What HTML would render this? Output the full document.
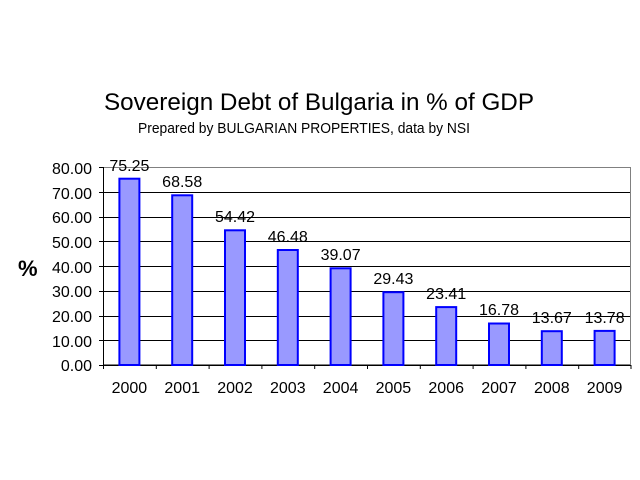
<!DOCTYPE html>
<html><head><meta charset="utf-8"><style>html,body{margin:0;padding:0;background:#fff}svg{display:block}</style></head>
<body>
<svg width="640" height="480" xmlns="http://www.w3.org/2000/svg" font-family="Liberation Sans, Arial, sans-serif">
<rect width="640" height="480" fill="#fff"/>
<text x="104" y="110" font-size="24" textLength="430" lengthAdjust="spacingAndGlyphs">Sovereign Debt of Bulgaria in % of GDP</text>
<text x="138" y="133" font-size="15" textLength="332" lengthAdjust="spacingAndGlyphs">Prepared by BULGARIAN PROPERTIES, data by NSI</text>
<text x="18" y="276" font-size="22" font-weight="bold">%</text>
<g stroke="#000" stroke-width="1">
<line x1="103" y1="192.5" x2="631" y2="192.5"/>
<line x1="103" y1="217.5" x2="631" y2="217.5"/>
<line x1="103" y1="241.5" x2="631" y2="241.5"/>
<line x1="103" y1="266.5" x2="631" y2="266.5"/>
<line x1="103" y1="291.5" x2="631" y2="291.5"/>
<line x1="103" y1="316.5" x2="631" y2="316.5"/>
<line x1="103" y1="340.5" x2="631" y2="340.5"/>
</g>
<rect x="103.5" y="167.5" width="527" height="197" fill="none" stroke="#808080"/>
<g stroke="#000">
<line x1="103.5" y1="167" x2="103.5" y2="369"/>
<line x1="99" y1="365.5" x2="631" y2="365.5"/>
<line x1="99" y1="167.5" x2="103" y2="167.5"/><line x1="99" y1="192.5" x2="103" y2="192.5"/><line x1="99" y1="217.5" x2="103" y2="217.5"/><line x1="99" y1="241.5" x2="103" y2="241.5"/><line x1="99" y1="266.5" x2="103" y2="266.5"/><line x1="99" y1="291.5" x2="103" y2="291.5"/><line x1="99" y1="316.5" x2="103" y2="316.5"/><line x1="99" y1="340.5" x2="103" y2="340.5"/>
<line x1="156.3" y1="365" x2="156.3" y2="369"/><line x1="209.1" y1="365" x2="209.1" y2="369"/><line x1="261.9" y1="365" x2="261.9" y2="369"/><line x1="314.7" y1="365" x2="314.7" y2="369"/><line x1="367.5" y1="365" x2="367.5" y2="369"/><line x1="420.3" y1="365" x2="420.3" y2="369"/><line x1="473.1" y1="365" x2="473.1" y2="369"/><line x1="525.9" y1="365" x2="525.9" y2="369"/><line x1="578.7" y1="365" x2="578.7" y2="369"/><line x1="631" y1="365" x2="631" y2="369"/>
</g>
<g font-size="16" text-anchor="end">
<text x="92" y="174">80.00</text><text x="92" y="199">70.00</text><text x="92" y="223">60.00</text><text x="92" y="248">50.00</text><text x="92" y="273">40.00</text><text x="92" y="297">30.00</text><text x="92" y="322">20.00</text><text x="92" y="347">10.00</text><text x="92" y="371">0.00</text>
</g>
<g fill="#9999ff" stroke="#0000ff" stroke-width="2">
<rect x="119.4" y="178.7" width="20" height="186.3"/>
<rect x="172.2" y="195.3" width="20" height="169.7"/>
<rect x="225.0" y="230.3" width="20" height="134.7"/>
<rect x="277.8" y="250.0" width="20" height="115.0"/>
<rect x="330.6" y="268.3" width="20" height="96.7"/>
<rect x="383.4" y="292.2" width="20" height="72.8"/>
<rect x="436.2" y="307.1" width="20" height="57.9"/>
<rect x="489.0" y="323.5" width="20" height="41.5"/>
<rect x="541.8" y="331.2" width="20" height="33.8"/>
<rect x="594.6" y="330.9" width="20" height="34.1"/>
</g>
<g font-size="16" text-anchor="middle">
<text x="129.4" y="171">75.25</text><text x="182.2" y="187">68.58</text><text x="235" y="222">54.42</text><text x="287.8" y="242">46.48</text><text x="340.6" y="260">39.07</text><text x="393.4" y="284">29.43</text><text x="446.2" y="299">23.41</text><text x="499" y="315">16.78</text><text x="551.8" y="323">13.67</text><text x="604.6" y="323">13.78</text>
</g>
<g font-size="16" text-anchor="middle">
<text x="129.4" y="393">2000</text><text x="182.2" y="393">2001</text><text x="235" y="393">2002</text><text x="287.8" y="393">2003</text><text x="340.6" y="393">2004</text><text x="393.4" y="393">2005</text><text x="446.2" y="393">2006</text><text x="499" y="393">2007</text><text x="551.8" y="393">2008</text><text x="604.6" y="393">2009</text>
</g>
</svg>
</body></html>
